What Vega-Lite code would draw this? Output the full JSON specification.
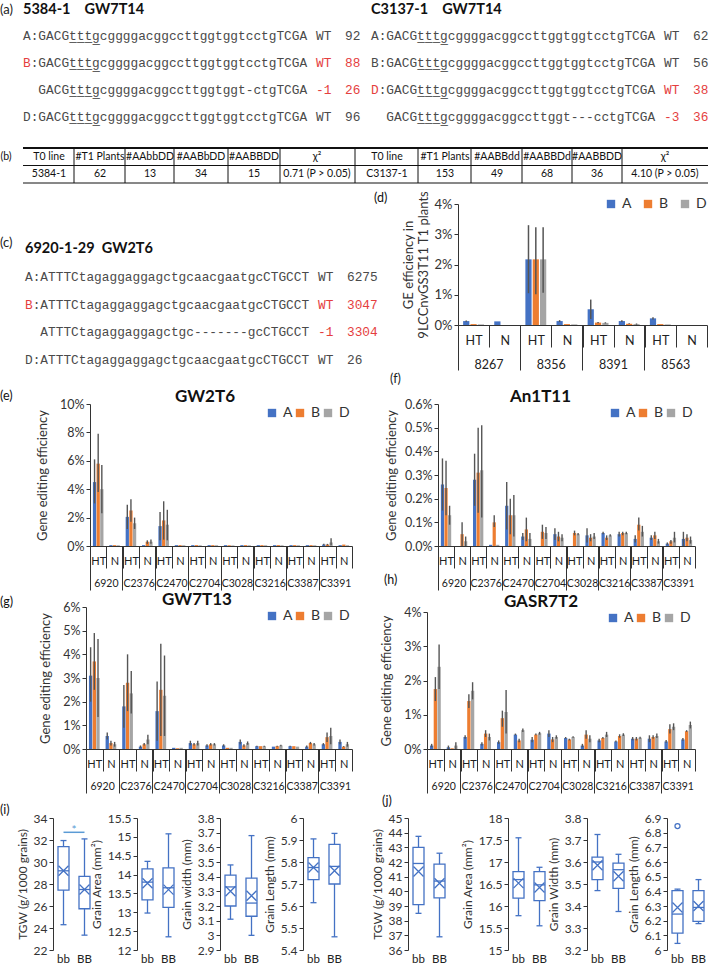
{
"$schema": "https://vega.github.io/schema/vega-lite/v6.json",
"padding": 0,
"background": "white",
"config": {
  "view": {"stroke": null},
  "font": "Lato",
  "axis": {"labelFont": "Lato", "titleFont": "Lato", "labelColor": "#333", "titleColor": "#333", "domainColor": "#333", "tickColor": "#333", "grid": false, "titleFontWeight": "normal"},
  "axisY": {"labelOverlap": false},
  "legend": {"labelFont": "Lato", "labelColor": "#333"},
  "title": {"font": "Lato", "color": "#111"}
},
"datasets": {
  "seqA": [
    {"side": "L", "line": 0, "title": "5384-1\u00a0\u00a0\u00a0\u00a0GW7T14"},
    {"side": "R", "line": 0, "title": "C3137-1\u00a0\u00a0\u00a0\u00a0GW7T14"},
    {"side": "L", "line": 1, "let": "A", "seq": "GACGt\u0332t\u0332t\u0332g\u0332cggggacggccttggtggtcctgTCGA", "st": "WT", "n": "92", "red": 0},
    {"side": "L", "line": 2, "let": "B", "seq": "GACGt\u0332t\u0332t\u0332g\u0332cggggacggccttggtggtcctgTCGA", "st": "WT", "n": "88", "red": 1},
    {"side": "L", "line": 3, "let": "", "seq": "GACGt\u0332t\u0332t\u0332g\u0332cggggacggccttggtggt-ctgTCGA", "st": "-1", "n": "26", "red": 1},
    {"side": "L", "line": 4, "let": "D", "seq": "GACGt\u0332t\u0332t\u0332g\u0332cggggacggccttggtggtcctgTCGA", "st": "WT", "n": "96", "red": 0},
    {"side": "R", "line": 1, "let": "A", "seq": "GACGt\u0332t\u0332t\u0332g\u0332cggggacggccttggtggtcctgTCGA", "st": "WT", "n": "62", "red": 0},
    {"side": "R", "line": 2, "let": "B", "seq": "GACGt\u0332t\u0332t\u0332g\u0332cggggacggccttggtggtcctgTCGA", "st": "WT", "n": "56", "red": 0},
    {"side": "R", "line": 3, "let": "D", "seq": "GACGt\u0332t\u0332t\u0332g\u0332cggggacggccttggtggtcctgTCGA", "st": "WT", "n": "38", "red": 1},
    {"side": "R", "line": 4, "let": "", "seq": "GACGt\u0332t\u0332t\u0332g\u0332cggggacggccttggt---cctgTCGA", "st": "-3", "n": "36", "red": 1}
  ],
  "seqC": [
    {"side": "L", "line": 0, "title": "6920-1-29\u00a0\u00a0GW2T6"},
    {"side": "L", "line": 1, "let": "A", "seq": "ATTTCtagaggaggagctgcaacgaatgcCTGCCT", "st": "WT", "n": "6275", "red": 0},
    {"side": "L", "line": 2, "let": "B", "seq": "ATTTCtagaggaggagctgcaacgaatgcCTGCCT", "st": "WT", "n": "3047", "red": 1},
    {"side": "L", "line": 3, "let": "", "seq": "ATTTCtagaggaggagctgc-------gcCTGCCT", "st": "-1", "n": "3304", "red": 1},
    {"side": "L", "line": 4, "let": "D", "seq": "ATTTCtagaggaggagctgcaacgaatgcCTGCCT", "st": "WT", "n": "26", "red": 0}
  ],
  "tbl": [
    {"row": "h", "col": -1, "t": "(b)"},
    {"row": "h", "col": 0, "t": "T0 line"}, {"row": "h", "col": 1, "t": "#T1 Plants"}, {"row": "h", "col": 2, "t": "#AAbbDD"},
    {"row": "h", "col": 3, "t": "#AABbDD"}, {"row": "h", "col": 4, "t": "#AABBDD"}, {"row": "h", "col": 5, "t": "χ²"},
    {"row": "h", "col": 6, "t": "T0 line"}, {"row": "h", "col": 7, "t": "#T1 Plants"}, {"row": "h", "col": 8, "t": "#AABBdd"},
    {"row": "h", "col": 9, "t": "#AABBDd"}, {"row": "h", "col": 10, "t": "#AABBDD"}, {"row": "h", "col": 11, "t": "χ²"},
    {"row": "d", "col": 0, "t": "5384-1"}, {"row": "d", "col": 1, "t": "62"}, {"row": "d", "col": 2, "t": "13"},
    {"row": "d", "col": 3, "t": "34"}, {"row": "d", "col": 4, "t": "15"}, {"row": "d", "col": 5, "t": "0.71 (P > 0.05)"},
    {"row": "d", "col": 6, "t": "C3137-1"}, {"row": "d", "col": 7, "t": "153"}, {"row": "d", "col": 8, "t": "49"},
    {"row": "d", "col": 9, "t": "68"}, {"row": "d", "col": 10, "t": "36"}, {"row": "d", "col": 11, "t": "4.10 (P > 0.05)"}
  ],
  "d": [
    {"k": "8267 HT", "al": "A", "v": 0.13, "lo": 0.11, "hi": 0.15}, {"k": "8267 HT", "al": "B", "v": 0.03}, {"k": "8267 HT", "al": "D", "v": 0.02},
    {"k": "8267 N", "al": "A", "v": 0.12}, {"k": "8267 N", "al": "B", "v": 0}, {"k": "8267 N", "al": "D", "v": 0},
    {"k": "8356 HT", "al": "A", "v": 2.17, "lo": 1.05, "hi": 3.3}, {"k": "8356 HT", "al": "B", "v": 2.17, "lo": 1.02, "hi": 3.23}, {"k": "8356 HT", "al": "D", "v": 2.17, "lo": 1.07, "hi": 3.23},
    {"k": "8356 N", "al": "A", "v": 0.13, "lo": 0.1, "hi": 0.16}, {"k": "8356 N", "al": "B", "v": 0.03}, {"k": "8356 N", "al": "D", "v": 0.02},
    {"k": "8391 HT", "al": "A", "v": 0.52, "lo": 0.2, "hi": 0.84}, {"k": "8391 HT", "al": "B", "v": 0.08, "lo": 0.06, "hi": 0.1}, {"k": "8391 HT", "al": "D", "v": 0.07, "lo": 0.05, "hi": 0.09},
    {"k": "8391 N", "al": "A", "v": 0.13, "lo": 0.1, "hi": 0.16}, {"k": "8391 N", "al": "B", "v": 0.04, "lo": 0.03, "hi": 0.06}, {"k": "8391 N", "al": "D", "v": 0.03, "lo": 0.01, "hi": 0.05},
    {"k": "8563 HT", "al": "A", "v": 0.22, "lo": 0.18, "hi": 0.26}, {"k": "8563 HT", "al": "B", "v": 0.03}, {"k": "8563 HT", "al": "D", "v": 0.02},
    {"k": "8563 N", "al": "A", "v": 0}, {"k": "8563 N", "al": "B", "v": 0}, {"k": "8563 N", "al": "D", "v": 0}
  ],
  "e": [
    {"k": "6920 HT", "al": "A", "v": 4.5, "lo": 3.0, "hi": 6.1}, {"k": "6920 HT", "al": "B", "v": 5.8, "lo": 3.8, "hi": 7.9}, {"k": "6920 HT", "al": "D", "v": 4.0, "lo": 2.3, "hi": 5.7},
    {"k": "6920 N", "al": "A", "v": 0.06}, {"k": "6920 N", "al": "B", "v": 0.06}, {"k": "6920 N", "al": "D", "v": 0.05},
    {"k": "C2376 HT", "al": "A", "v": 2.05, "lo": 1.2, "hi": 2.9}, {"k": "C2376 HT", "al": "B", "v": 2.5, "lo": 1.7, "hi": 3.3}, {"k": "C2376 HT", "al": "D", "v": 1.6, "lo": 1.2, "hi": 2.0},
    {"k": "C2376 N", "al": "A", "v": 0.06}, {"k": "C2376 N", "al": "B", "v": 0.3, "lo": 0.15, "hi": 0.4}, {"k": "C2376 N", "al": "D", "v": 0.3, "lo": 0.15, "hi": 0.45},
    {"k": "C2470 HT", "al": "A", "v": 1.4, "lo": 0.4, "hi": 2.4}, {"k": "C2470 HT", "al": "B", "v": 1.8, "lo": 0.45, "hi": 3.15}, {"k": "C2470 HT", "al": "D", "v": 1.5, "lo": 0.4, "hi": 2.55},
    {"k": "C2470 N", "al": "A", "v": 0.06}, {"k": "C2470 N", "al": "B", "v": 0.06}, {"k": "C2470 N", "al": "D", "v": 0.05},
    {"k": "C2704 HT", "al": "A", "v": 0.06}, {"k": "C2704 HT", "al": "B", "v": 0.06}, {"k": "C2704 HT", "al": "D", "v": 0.05},
    {"k": "C2704 N", "al": "A", "v": 0.06}, {"k": "C2704 N", "al": "B", "v": 0.06}, {"k": "C2704 N", "al": "D", "v": 0.05},
    {"k": "C3028 HT", "al": "A", "v": 0.06}, {"k": "C3028 HT", "al": "B", "v": 0.05}, {"k": "C3028 HT", "al": "D", "v": 0.04},
    {"k": "C3028 N", "al": "A", "v": 0.06}, {"k": "C3028 N", "al": "B", "v": 0.06}, {"k": "C3028 N", "al": "D", "v": 0.05},
    {"k": "C3216 HT", "al": "A", "v": 0.06}, {"k": "C3216 HT", "al": "B", "v": 0.06}, {"k": "C3216 HT", "al": "D", "v": 0.05},
    {"k": "C3216 N", "al": "A", "v": 0.06}, {"k": "C3216 N", "al": "B", "v": 0.06}, {"k": "C3216 N", "al": "D", "v": 0.05},
    {"k": "C3387 HT", "al": "A", "v": 0.06}, {"k": "C3387 HT", "al": "B", "v": 0.06}, {"k": "C3387 HT", "al": "D", "v": 0.05},
    {"k": "C3387 N", "al": "A", "v": 0.06}, {"k": "C3387 N", "al": "B", "v": 0.06}, {"k": "C3387 N", "al": "D", "v": 0.05},
    {"k": "C3391 HT", "al": "A", "v": 0.1, "lo": 0.05, "hi": 0.15}, {"k": "C3391 HT", "al": "B", "v": 0.1, "lo": 0.05, "hi": 0.15}, {"k": "C3391 HT", "al": "D", "v": 0.25, "lo": 0.05, "hi": 0.55},
    {"k": "C3391 N", "al": "A", "v": 0.06}, {"k": "C3391 N", "al": "B", "v": 0.1}, {"k": "C3391 N", "al": "D", "v": 0.06}
  ],
  "f": [
    {"k": "6920 HT", "al": "A", "v": 0.26, "lo": 0.15, "hi": 0.37}, {"k": "6920 HT", "al": "B", "v": 0.245, "lo": 0.13, "hi": 0.36}, {"k": "6920 HT", "al": "D", "v": 0.13, "lo": 0.09, "hi": 0.17},
    {"k": "6920 N", "al": "A", "v": 0}, {"k": "6920 N", "al": "B", "v": 0.05, "lo": 0, "hi": 0.1}, {"k": "6920 N", "al": "D", "v": 0.02, "lo": 0, "hi": 0.04},
    {"k": "C2376 HT", "al": "A", "v": 0.28, "lo": 0.17, "hi": 0.39}, {"k": "C2376 HT", "al": "B", "v": 0.31, "lo": 0.14, "hi": 0.5}, {"k": "C2376 HT", "al": "D", "v": 0.32, "lo": 0.12, "hi": 0.51},
    {"k": "C2376 N", "al": "A", "v": 0.005}, {"k": "C2376 N", "al": "B", "v": 0.1, "lo": 0.08, "hi": 0.13}, {"k": "C2376 N", "al": "D", "v": 0.005},
    {"k": "C2470 HT", "al": "A", "v": 0.17, "lo": 0.07, "hi": 0.27}, {"k": "C2470 HT", "al": "B", "v": 0.13, "lo": 0.05, "hi": 0.2}, {"k": "C2470 HT", "al": "D", "v": 0.13, "lo": 0.04, "hi": 0.215},
    {"k": "C2470 N", "al": "A", "v": 0.04, "lo": 0.025, "hi": 0.055}, {"k": "C2470 N", "al": "B", "v": 0.07, "lo": 0.02, "hi": 0.12}, {"k": "C2470 N", "al": "D", "v": 0.03, "lo": 0, "hi": 0.055},
    {"k": "C2704 HT", "al": "A", "v": 0}, {"k": "C2704 HT", "al": "B", "v": 0.06, "lo": 0.03, "hi": 0.09}, {"k": "C2704 HT", "al": "D", "v": 0.055, "lo": 0.03, "hi": 0.08},
    {"k": "C2704 N", "al": "A", "v": 0.05, "lo": 0.025, "hi": 0.075}, {"k": "C2704 N", "al": "B", "v": 0.04, "lo": 0.02, "hi": 0.06}, {"k": "C2704 N", "al": "D", "v": 0.035, "lo": 0.02, "hi": 0.05},
    {"k": "C3028 HT", "al": "A", "v": 0}, {"k": "C3028 HT", "al": "B", "v": 0.055, "lo": 0.045, "hi": 0.065}, {"k": "C3028 HT", "al": "D", "v": 0.05, "lo": 0.045, "hi": 0.055},
    {"k": "C3028 N", "al": "A", "v": 0.045, "lo": 0.015, "hi": 0.075}, {"k": "C3028 N", "al": "B", "v": 0.035, "lo": 0.02, "hi": 0.05}, {"k": "C3028 N", "al": "D", "v": 0.04, "lo": 0.03, "hi": 0.055},
    {"k": "C3216 HT", "al": "A", "v": 0.055, "lo": 0.05, "hi": 0.06}, {"k": "C3216 HT", "al": "B", "v": 0.035, "lo": 0.025, "hi": 0.045}, {"k": "C3216 HT", "al": "D", "v": 0.045, "lo": 0.04, "hi": 0.05},
    {"k": "C3216 N", "al": "A", "v": 0.05, "lo": 0.04, "hi": 0.06}, {"k": "C3216 N", "al": "B", "v": 0.055, "lo": 0.045, "hi": 0.06}, {"k": "C3216 N", "al": "D", "v": 0.055, "lo": 0.05, "hi": 0.06},
    {"k": "C3387 HT", "al": "A", "v": 0.03, "lo": 0.015, "hi": 0.045}, {"k": "C3387 HT", "al": "B", "v": 0.09, "lo": 0.065, "hi": 0.12}, {"k": "C3387 HT", "al": "D", "v": 0.06, "lo": 0.04, "hi": 0.085},
    {"k": "C3387 N", "al": "A", "v": 0.035, "lo": 0.025, "hi": 0.045}, {"k": "C3387 N", "al": "B", "v": 0.045, "lo": 0.03, "hi": 0.06}, {"k": "C3387 N", "al": "D", "v": 0.02, "lo": 0.01, "hi": 0.03},
    {"k": "C3391 HT", "al": "A", "v": 0.01, "lo": 0.005, "hi": 0.015}, {"k": "C3391 HT", "al": "B", "v": 0.02, "lo": 0.01, "hi": 0.025}, {"k": "C3391 HT", "al": "D", "v": 0.035, "lo": 0.015, "hi": 0.06},
    {"k": "C3391 N", "al": "A", "v": 0.03, "lo": 0, "hi": 0.06}, {"k": "C3391 N", "al": "B", "v": 0.035, "lo": 0.02, "hi": 0.05}, {"k": "C3391 N", "al": "D", "v": 0.025, "lo": 0.01, "hi": 0.04}
  ],
  "g": [
    {"k": "6920 HT", "al": "A", "v": 3.1, "lo": 2.0, "hi": 4.3}, {"k": "6920 HT", "al": "B", "v": 3.7, "lo": 2.5, "hi": 4.9}, {"k": "6920 HT", "al": "D", "v": 3.0, "lo": 1.35, "hi": 4.65},
    {"k": "6920 N", "al": "A", "v": 0.55, "lo": 0.4, "hi": 0.7}, {"k": "6920 N", "al": "B", "v": 0.25, "lo": 0.15, "hi": 0.35}, {"k": "6920 N", "al": "D", "v": 0.2, "lo": 0.1, "hi": 0.3},
    {"k": "C2376 HT", "al": "A", "v": 1.8, "lo": 0.9, "hi": 2.7}, {"k": "C2376 HT", "al": "B", "v": 2.8, "lo": 1.6, "hi": 4.0}, {"k": "C2376 HT", "al": "D", "v": 2.35, "lo": 1.5, "hi": 3.3},
    {"k": "C2376 N", "al": "A", "v": 0.1, "lo": 0.05, "hi": 0.15}, {"k": "C2376 N", "al": "B", "v": 0.2, "lo": 0.15, "hi": 0.25}, {"k": "C2376 N", "al": "D", "v": 0.4, "lo": 0.2, "hi": 0.6},
    {"k": "C2470 HT", "al": "A", "v": 1.6, "lo": 0.35, "hi": 2.85}, {"k": "C2470 HT", "al": "B", "v": 2.5, "lo": 0.55, "hi": 4.45}, {"k": "C2470 HT", "al": "D", "v": 2.25, "lo": 0.55, "hi": 3.95},
    {"k": "C2470 N", "al": "A", "v": 0.05}, {"k": "C2470 N", "al": "B", "v": 0.03}, {"k": "C2470 N", "al": "D", "v": 0.05},
    {"k": "C2704 HT", "al": "A", "v": 0.25, "lo": 0.15, "hi": 0.35}, {"k": "C2704 HT", "al": "B", "v": 0.2, "lo": 0.15, "hi": 0.25}, {"k": "C2704 HT", "al": "D", "v": 0.25, "lo": 0.15, "hi": 0.35},
    {"k": "C2704 N", "al": "A", "v": 0.15, "lo": 0.1, "hi": 0.2}, {"k": "C2704 N", "al": "B", "v": 0.2, "lo": 0.15, "hi": 0.25}, {"k": "C2704 N", "al": "D", "v": 0.2, "lo": 0.15, "hi": 0.25},
    {"k": "C3028 HT", "al": "A", "v": 0.15, "lo": 0.1, "hi": 0.2}, {"k": "C3028 HT", "al": "B", "v": 0.05}, {"k": "C3028 HT", "al": "D", "v": 0.05},
    {"k": "C3028 N", "al": "A", "v": 0.3, "lo": 0.2, "hi": 0.4}, {"k": "C3028 N", "al": "B", "v": 0.15, "lo": 0.1, "hi": 0.2}, {"k": "C3028 N", "al": "D", "v": 0.25, "lo": 0.18, "hi": 0.32},
    {"k": "C3216 HT", "al": "A", "v": 0.12, "lo": 0.1, "hi": 0.14}, {"k": "C3216 HT", "al": "B", "v": 0.12}, {"k": "C3216 HT", "al": "D", "v": 0.12, "lo": 0.1, "hi": 0.14},
    {"k": "C3216 N", "al": "A", "v": 0.1}, {"k": "C3216 N", "al": "B", "v": 0.12, "lo": 0.1, "hi": 0.14}, {"k": "C3216 N", "al": "D", "v": 0.15, "lo": 0.12, "hi": 0.18},
    {"k": "C3387 HT", "al": "A", "v": 0.12, "lo": 0.1, "hi": 0.14}, {"k": "C3387 HT", "al": "B", "v": 0.12}, {"k": "C3387 HT", "al": "D", "v": 0.1},
    {"k": "C3387 N", "al": "A", "v": 0.1, "lo": 0.05, "hi": 0.15}, {"k": "C3387 N", "al": "B", "v": 0.25, "lo": 0.2, "hi": 0.3}, {"k": "C3387 N", "al": "D", "v": 0.2, "lo": 0.15, "hi": 0.25},
    {"k": "C3391 HT", "al": "A", "v": 0.2, "lo": 0.15, "hi": 0.25}, {"k": "C3391 HT", "al": "B", "v": 0.5, "lo": 0.3, "hi": 0.7}, {"k": "C3391 HT", "al": "D", "v": 0.55, "lo": 0.2, "hi": 0.9},
    {"k": "C3391 N", "al": "A", "v": 0.3, "lo": 0.2, "hi": 0.4}, {"k": "C3391 N", "al": "B", "v": 0.1, "lo": 0.08, "hi": 0.12}, {"k": "C3391 N", "al": "D", "v": 0.2, "lo": 0.1, "hi": 0.3}
  ],
  "h": [
    {"k": "6920 HT", "al": "A", "v": 0.1, "lo": 0.05, "hi": 0.15}, {"k": "6920 HT", "al": "B", "v": 1.75, "lo": 1.4, "hi": 2.1}, {"k": "6920 HT", "al": "D", "v": 2.4, "lo": 1.75, "hi": 3.05},
    {"k": "6920 N", "al": "A", "v": 0.05, "lo": 0, "hi": 0.1}, {"k": "6920 N", "al": "B", "v": 0.02}, {"k": "6920 N", "al": "D", "v": 0.1, "lo": 0, "hi": 0.2},
    {"k": "C2376 HT", "al": "A", "v": 0.35, "lo": 0.3, "hi": 0.4}, {"k": "C2376 HT", "al": "B", "v": 1.4, "lo": 1.2, "hi": 1.6}, {"k": "C2376 HT", "al": "D", "v": 1.7, "lo": 1.45, "hi": 1.95},
    {"k": "C2376 N", "al": "A", "v": 0.15, "lo": 0.1, "hi": 0.2}, {"k": "C2376 N", "al": "B", "v": 0.45, "lo": 0.35, "hi": 0.55}, {"k": "C2376 N", "al": "D", "v": 0.35, "lo": 0.25, "hi": 0.45},
    {"k": "C2470 HT", "al": "A", "v": 0.2, "lo": 0.15, "hi": 0.25}, {"k": "C2470 HT", "al": "B", "v": 0.9, "lo": 0.65, "hi": 1.12}, {"k": "C2470 HT", "al": "D", "v": 1.08, "lo": 0.45, "hi": 1.72},
    {"k": "C2470 N", "al": "A", "v": 0.42, "lo": 0.4, "hi": 0.45}, {"k": "C2470 N", "al": "B", "v": 0.25, "lo": 0.2, "hi": 0.3}, {"k": "C2470 N", "al": "D", "v": 0.55, "lo": 0.5, "hi": 0.6},
    {"k": "C2704 HT", "al": "A", "v": 0.27, "lo": 0.2, "hi": 0.35}, {"k": "C2704 HT", "al": "B", "v": 0.42, "lo": 0.4, "hi": 0.45}, {"k": "C2704 HT", "al": "D", "v": 0.46, "lo": 0.42, "hi": 0.5},
    {"k": "C2704 N", "al": "A", "v": 0.45, "lo": 0.35, "hi": 0.55}, {"k": "C2704 N", "al": "B", "v": 0.28, "lo": 0.2, "hi": 0.35}, {"k": "C2704 N", "al": "D", "v": 0.35, "lo": 0.3, "hi": 0.4},
    {"k": "C3028 HT", "al": "A", "v": 0.32, "lo": 0.3, "hi": 0.35}, {"k": "C3028 HT", "al": "B", "v": 0.28, "lo": 0.25, "hi": 0.3}, {"k": "C3028 HT", "al": "D", "v": 0.35, "lo": 0.33, "hi": 0.37},
    {"k": "C3028 N", "al": "A", "v": 0.1, "lo": 0.05, "hi": 0.15}, {"k": "C3028 N", "al": "B", "v": 0.42, "lo": 0.3, "hi": 0.55}, {"k": "C3028 N", "al": "D", "v": 0.3, "lo": 0.2, "hi": 0.4},
    {"k": "C3216 HT", "al": "A", "v": 0.25, "lo": 0.2, "hi": 0.3}, {"k": "C3216 HT", "al": "B", "v": 0.32, "lo": 0.3, "hi": 0.35}, {"k": "C3216 HT", "al": "D", "v": 0.42, "lo": 0.35, "hi": 0.5},
    {"k": "C3216 N", "al": "A", "v": 0.22, "lo": 0.2, "hi": 0.25}, {"k": "C3216 N", "al": "B", "v": 0.38, "lo": 0.33, "hi": 0.43}, {"k": "C3216 N", "al": "D", "v": 0.42, "lo": 0.38, "hi": 0.46},
    {"k": "C3387 HT", "al": "A", "v": 0.3, "lo": 0.25, "hi": 0.35}, {"k": "C3387 HT", "al": "B", "v": 0.3, "lo": 0.25, "hi": 0.35}, {"k": "C3387 HT", "al": "D", "v": 0.33, "lo": 0.3, "hi": 0.36},
    {"k": "C3387 N", "al": "A", "v": 0.3, "lo": 0.2, "hi": 0.4}, {"k": "C3387 N", "al": "B", "v": 0.35, "lo": 0.3, "hi": 0.4}, {"k": "C3387 N", "al": "D", "v": 0.38, "lo": 0.32, "hi": 0.45},
    {"k": "C3391 HT", "al": "A", "v": 0.22, "lo": 0.18, "hi": 0.26}, {"k": "C3391 HT", "al": "B", "v": 0.58, "lo": 0.45, "hi": 0.72}, {"k": "C3391 HT", "al": "D", "v": 0.65, "lo": 0.55, "hi": 0.75},
    {"k": "C3391 N", "al": "A", "v": 0.28, "lo": 0.24, "hi": 0.32}, {"k": "C3391 N", "al": "B", "v": 0.52, "lo": 0.5, "hi": 0.55}, {"k": "C3391 N", "al": "D", "v": 0.7, "lo": 0.6, "hi": 0.8}
  ],
  "box": [
    {"p": "i1", "g": "bb", "min": 24.3, "q1": 27.45, "med": 29.2, "q3": 31.4, "max": 31.95, "mean": 29.2},
    {"p": "i1", "g": "BB", "min": 23.35, "q1": 25.75, "med": 27.5, "q3": 28.7, "max": 32.1, "mean": 27.5},
    {"p": "i2", "g": "bb", "min": 12.98, "q1": 13.33, "med": 13.8, "q3": 14.15, "max": 14.35, "mean": 13.77},
    {"p": "i2", "g": "BB", "min": 12.35, "q1": 13.13, "med": 13.65, "q3": 14.18, "max": 15.08, "mean": 13.6},
    {"p": "i3", "g": "bb", "min": 3.11, "q1": 3.2, "med": 3.33, "q3": 3.41, "max": 3.48, "mean": 3.3},
    {"p": "i3", "g": "BB", "min": 3.0, "q1": 3.13, "med": 3.22, "q3": 3.39, "max": 3.68, "mean": 3.27},
    {"p": "i4", "g": "bb", "min": 5.615, "q1": 5.72, "med": 5.775, "q3": 5.82, "max": 5.905, "mean": 5.775},
    {"p": "i4", "g": "BB", "min": 5.46, "q1": 5.7, "med": 5.78, "q3": 5.88, "max": 5.93, "mean": 5.76},
    {"p": "j1", "g": "bb", "min": 38.5, "q1": 39.1, "med": 41.9, "q3": 43.0, "max": 43.75, "mean": 41.35},
    {"p": "j1", "g": "BB", "min": 36.9, "q1": 39.55, "med": 40.7, "q3": 41.85, "max": 42.6, "mean": 40.55},
    {"p": "j2", "g": "bb", "min": 15.78, "q1": 16.18, "med": 16.6, "q3": 16.78, "max": 17.55, "mean": 16.52},
    {"p": "j2", "g": "BB", "min": 15.55, "q1": 16.12, "med": 16.48, "q3": 16.78, "max": 16.88, "mean": 16.42},
    {"p": "j3", "g": "bb", "min": 3.47, "q1": 3.52, "med": 3.6, "q3": 3.622, "max": 3.725, "mean": 3.585},
    {"p": "j3", "g": "BB", "min": 3.375, "q1": 3.48, "med": 3.565, "q3": 3.595, "max": 3.635, "mean": 3.535},
    {"p": "j4", "g": "bb", "min": 6.045, "q1": 6.115, "med": 6.245, "q3": 6.405, "max": 6.415, "mean": 6.29},
    {"p": "j4", "g": "BB", "min": 6.18, "q1": 6.195, "med": 6.29, "q3": 6.405, "max": 6.48, "mean": 6.3}
  ]
},
"spacing": 0,
"bounds": "full",
"resolve": {"scale": {"color": "independent", "xOffset": "independent"}, "legend": {"color": "independent"}},
"vconcat": [
  {
    "width": 709, "height": 147,
    "data": {"name": "seqA"},
    "encoding": {
      "x": {"field": "side", "type": "nominal", "scale": {"type": "point", "domain": ["L", "R"], "range": [23, 371], "padding": 0}, "axis": null},
      "y": {"field": "line", "type": "quantitative", "scale": {"domain": [0, 1, 4], "range": [10, 36, 117], "nice": false, "zero": false}, "axis": null}
    },
    "layer": [
      {"transform": [{"filter": "datum.line == 0"}], "mark": {"type": "text", "font": "Lato", "fontWeight": "bold", "fontSize": 14.5, "align": "left", "baseline": "middle", "color": "#111"}, "encoding": {"text": {"field": "title"}}},
      {"transform": [{"filter": "datum.line == 0 && datum.side == 'L'"}], "mark": {"type": "text", "font": "Lato", "fontSize": 13, "align": "left", "baseline": "middle", "dx": -23, "color": "#222"}, "encoding": {"text": {"value": "(a)"}}},
      {"transform": [{"filter": "datum.line > 0"}], "mark": {"type": "text", "font": "Liberation Mono", "fontSize": 12.8, "align": "left", "baseline": "middle"}, "encoding": {"text": {"field": "let"}, "color": {"condition": {"test": "datum.red == 1", "value": "#E53E3E"}, "value": "#4a4a4a"}}},
      {"transform": [{"filter": "datum.line > 0 && datum.let != ''"}], "mark": {"type": "text", "font": "Liberation Mono", "fontSize": 12.8, "align": "left", "baseline": "middle", "dx": 7.68, "color": "#4a4a4a"}, "encoding": {"text": {"value": ":"}}},
      {"transform": [{"filter": "datum.line > 0"}], "mark": {"type": "text", "font": "Liberation Mono", "fontSize": 12.8, "align": "left", "baseline": "middle", "dx": 15.36, "color": "#4a4a4a"}, "encoding": {"text": {"field": "seq"}}},
      {"transform": [{"filter": "datum.line > 0"}], "mark": {"type": "text", "font": "Liberation Mono", "fontSize": 12.8, "align": "left", "baseline": "middle", "dx": 293}, "encoding": {"text": {"field": "st"}, "color": {"condition": {"test": "datum.red == 1", "value": "#E53E3E"}, "value": "#4a4a4a"}}},
      {"transform": [{"filter": "datum.line > 0"}], "mark": {"type": "text", "font": "Liberation Mono", "fontSize": 12.8, "align": "left", "baseline": "middle", "dx": 322}, "encoding": {"text": {"field": "n"}, "color": {"condition": {"test": "datum.red == 1", "value": "#E53E3E"}, "value": "#4a4a4a"}}}
    ]
  },
  {
    "width": 709, "height": 42,
    "layer": [
      {"data": {"name": "tbl"},
       "mark": {"type": "text", "font": "Lato", "fontSize": 10.5, "align": "center", "baseline": "middle", "color": "#111"},
       "encoding": {
         "x": {"field": "col", "type": "quantitative", "scale": {"domain": [-1, 0, 1, 2, 3, 4, 5, 6, 7, 8, 9, 10, 11], "range": [6, 49, 100, 150, 201, 254, 317, 387, 445, 497, 547, 597, 665], "nice": false, "zero": false}, "axis": null},
         "y": {"field": "row", "type": "nominal", "scale": {"type": "point", "domain": ["h", "d"], "range": [9, 26], "padding": 0}, "axis": null},
         "text": {"field": "t"}
       }},
      {"data": {"values": [{"b": 1}, {"b": 2}, {"b": 3}, {"b": 4}, {"b": 5}, {"b": 6}, {"b": 7}, {"b": 8}, {"b": 9}, {"b": 10}, {"b": 11}]},
       "mark": {"type": "rule", "color": "#111", "strokeWidth": 1},
       "encoding": {
         "x": {"field": "b", "type": "quantitative", "scale": {"domain": [0, 1, 2, 3, 4, 5, 6, 7, 8, 9, 10, 11, 12], "range": [23, 74, 125, 174, 228, 280, 355, 418, 471, 522, 572, 622, 708], "nice": false, "zero": false}, "axis": null},
         "y": {"datum": 0, "type": "quantitative", "scale": {"domain": [0, 2], "range": [0, 35], "nice": false, "zero": false}, "axis": null},
         "y2": {"datum": 2}
       }},
      {"data": {"values": [{"h": 0}, {"h": 1}, {"h": 2}]},
       "mark": {"type": "rule", "color": "#111"},
       "encoding": {
         "y": {"field": "h", "type": "quantitative", "scale": {"domain": [0, 2], "range": [0, 35], "nice": false, "zero": false}, "axis": null},
         "x": {"datum": 0, "type": "quantitative", "scale": {"domain": [0, 1, 2, 3, 4, 5, 6, 7, 8, 9, 10, 11, 12], "range": [23, 74, 125, 174, 228, 280, 355, 418, 471, 522, 572, 622, 708], "nice": false, "zero": false}, "axis": null},
         "x2": {"datum": 12},
         "strokeWidth": {"condition": {"test": "datum.h == 0", "value": 2}, "value": 1}
       }}
    ],
    "resolve": {"scale": {"x": "independent", "y": "independent"}}
  },
  {
    "hconcat": [
      {
        "width": 458, "height": 183,
        "data": {"name": "seqC"},
        "encoding": {
          "x": {"field": "side", "type": "nominal", "scale": {"type": "point", "domain": ["L", "R"], "range": [25, 390], "padding": 0}, "axis": null},
          "y": {"field": "line", "type": "quantitative", "scale": {"domain": [0, 4, 5], "range": [45, 156, 175], "nice": false, "zero": false}, "axis": null}
        },
        "layer": [
          {"transform": [{"filter": "datum.line == 0"}], "mark": {"type": "text", "font": "Lato", "fontWeight": "bold", "fontSize": 14.5, "align": "left", "baseline": "middle", "color": "#111"}, "encoding": {"text": {"field": "title"}}},
          {"transform": [{"filter": "datum.line == 0"}], "mark": {"type": "text", "font": "Lato", "fontSize": 13, "align": "left", "baseline": "middle", "dx": -25, "dy": -6, "color": "#222"}, "encoding": {"text": {"value": "(c)"}}},
          {"transform": [{"filter": "datum.line > 0"}], "mark": {"type": "text", "font": "Liberation Mono", "fontSize": 12.8, "align": "left", "baseline": "middle"}, "encoding": {"text": {"field": "let"}, "color": {"condition": {"test": "datum.red == 1", "value": "#E53E3E"}, "value": "#4a4a4a"}}},
          {"transform": [{"filter": "datum.line > 0 && datum.let != ''"}], "mark": {"type": "text", "font": "Liberation Mono", "fontSize": 12.8, "align": "left", "baseline": "middle", "dx": 7.68, "color": "#4a4a4a"}, "encoding": {"text": {"value": ":"}}},
          {"transform": [{"filter": "datum.line > 0"}], "mark": {"type": "text", "font": "Liberation Mono", "fontSize": 12.8, "align": "left", "baseline": "middle", "dx": 15.36, "color": "#4a4a4a"}, "encoding": {"text": {"field": "seq"}}},
          {"transform": [{"filter": "datum.line > 0"}], "mark": {"type": "text", "font": "Liberation Mono", "fontSize": 12.8, "align": "left", "baseline": "middle", "dx": 293}, "encoding": {"text": {"field": "st"}, "color": {"condition": {"test": "datum.red == 1", "value": "#E53E3E"}, "value": "#4a4a4a"}}},
          {"transform": [{"filter": "datum.line > 0"}], "mark": {"type": "text", "font": "Liberation Mono", "fontSize": 12.8, "align": "left", "baseline": "middle", "dx": 322}, "encoding": {"text": {"field": "n"}, "color": {"condition": {"test": "datum.red == 1", "value": "#E53E3E"}, "value": "#4a4a4a"}}},
          {"data": {"values": [{"side": "R", "line": 5, "t": "(f)"}]}, "mark": {"type": "text", "font": "Lato", "fontSize": 12.5, "align": "left", "baseline": "middle", "color": "#222"}, "encoding": {"text": {"field": "t"}}}
        ]
      },
      {
        "width": 249, "height": 121,
        "data": {"name": "d"},
        "title": {"text": "(d)", "anchor": "start", "frame": "group", "dx": -84, "offset": -14, "fontSize": 12.5, "fontWeight": "normal"},
        "layer": [
          {"mark": {"type": "bar"},
           "encoding": {
             "x": {"field": "k", "type": "nominal", "scale": {"domain": ["8267 HT", "8267 N", "8356 HT", "8356 N", "8391 HT", "8391 N", "8563 HT", "8563 N"], "paddingInner": 0, "paddingOuter": 0},
                   "axis": {"title": null, "orient": "bottom", "labelExpr": "split(datum.label, ' ')[1]", "tickBand": "extent", "tickSize": 22, "labelPadding": -13, "labelAngle": 0, "labelFontSize": 12.5, "labelColor": "#222"}},
             "xOffset": {"field": "al", "type": "nominal", "scale": {"domain": ["A", "B", "D"], "paddingOuter": 0.7, "paddingInner": 0.15}},
             "y": {"field": "v", "type": "quantitative", "scale": {"domain": [0, 4], "nice": false},
                   "axis": {"title": ["GE efficiency in", "9LCCnvGS3T11 T1 plants"], "values": [0, 1, 2, 3, 4], "tickCount": 20, "format": "~g", "labelExpr": "datum.label + '%'", "labelOverlap": false, "titleFontSize": 13, "labelFontSize": 13, "tickSize": 4, "titlePadding": 4}},
             "color": {"field": "al", "type": "nominal", "scale": {"domain": ["A", "B", "D"], "range": ["#4472C4", "#ED7D31", "#A5A5A5"]},
                       "legend": {"title": null, "orient": "none", "legendX": 146, "legendY": -7, "direction": "horizontal", "symbolType": "square", "symbolSize": 70, "labelFontSize": 14, "columnPadding": 9}}
           }},
          {"mark": {"type": "rule", "color": "#555", "strokeWidth": 1.5},
           "encoding": {
             "x": {"field": "k", "type": "nominal", "axis": {"title": null, "orient": "bottom", "domain": false, "bandPosition": 0, "tickSize": 45, "tickOpacity": {"condition": {"test": "indexof(datum.value, ' HT') > 0", "value": 1}, "value": 0}, "labelExpr": "indexof(datum.label, ' HT') > 0 ? split(datum.label, ' ')[0] : ''", "labelOffset": 15.56, "labelPadding": -12, "labelAngle": 0, "labelFontSize": 12.5, "labelColor": "#222"}},
             "xOffset": {"field": "al", "type": "nominal"},
             "y": {"field": "lo", "type": "quantitative"},
             "y2": {"field": "hi"}
           }}
        ],
        "resolve": {"axis": {"x": "independent"}}
      }
    ],
    "spacing": 0,
    "bounds": "flush",
    "resolve": {"scale": {"color": "independent", "xOffset": "independent"}, "legend": {"color": "independent"}}
  },
  {
    "hconcat": [
      {"width": 90, "height": 187, "data": {"values": []}, "mark": "text", "title": {"text": "(e)", "anchor": "start", "frame": "group", "offset": 2, "fontSize": 12.5, "fontWeight": "normal"}},
      {
        "width": 262, "height": 142,
        "data": {"name": "e"},
        "title": {"text": "GW2T6", "anchor": "middle", "frame": "group", "dx": -16, "offset": -7.5, "fontSize": 17, "fontWeight": "bold"},
        "layer": [
          {"mark": {"type": "bar"},
           "encoding": {
             "x": {"field": "k", "type": "nominal", "scale": {"domain": ["6920 HT", "6920 N", "C2376 HT", "C2376 N", "C2470 HT", "C2470 N", "C2704 HT", "C2704 N", "C3028 HT", "C3028 N", "C3216 HT", "C3216 N", "C3387 HT", "C3387 N", "C3391 HT", "C3391 N"], "paddingInner": 0, "paddingOuter": 0},
                   "axis": {"title": null, "orient": "bottom", "labelExpr": "split(datum.label, ' ')[1]", "tickBand": "extent", "tickSize": 22, "labelPadding": -13, "labelAngle": 0, "labelFontSize": 11, "labelColor": "#222"}},
             "xOffset": {"field": "al", "type": "nominal", "scale": {"domain": ["A", "B", "D"], "paddingOuter": 0.8, "paddingInner": 0.1}},
             "y": {"field": "v", "type": "quantitative", "scale": {"domain": [0, 10], "nice": false},
                   "axis": {"title": "Gene editing efficiency", "values": [0, 2, 4, 6, 8, 10], "tickCount": 20, "format": "~g", "labelExpr": "datum.label + '%'", "labelOverlap": false, "titleFontSize": 13, "labelFontSize": 12.5, "tickSize": 4, "titlePadding": 10}},
             "color": {"field": "al", "type": "nominal", "scale": {"domain": ["A", "B", "D"], "range": ["#4472C4", "#ED7D31", "#A5A5A5"]},
                       "legend": {"title": null, "orient": "top-right", "direction": "horizontal", "symbolType": "square", "symbolSize": 70, "labelFontSize": 14, "offset": 2, "columnPadding": 0}}
           }},
          {"mark": {"type": "rule", "color": "#555", "strokeWidth": 1.4},
           "encoding": {
             "x": {"field": "k", "type": "nominal", "axis": {"title": null, "orient": "bottom", "domain": false, "bandPosition": 0, "tickSize": 44, "tickOpacity": {"condition": {"test": "indexof(datum.value, ' HT') > 0", "value": 1}, "value": 0}, "labelExpr": "indexof(datum.label, ' HT') > 0 ? split(datum.label, ' ')[0] : ''", "labelOffset": 8.19, "labelPadding": -12, "labelAngle": 0, "labelFontSize": 10.5, "labelColor": "#222"}},
             "xOffset": {"field": "al", "type": "nominal"},
             "y": {"field": "lo", "type": "quantitative"},
             "y2": {"field": "hi"}
           }}
        ],
        "resolve": {"axis": {"x": "independent"}}
      },
      {"width": 86, "height": 142, "data": {"values": []}, "mark": "text", "title": {"text": "(h)", "orient": "bottom", "anchor": "start", "frame": "group", "dx": 32, "offset": 28, "fontSize": 12.5, "fontWeight": "normal"}},
      {
        "width": 257, "height": 142,
        "data": {"name": "f"},
        "title": {"text": "An1T11", "anchor": "middle", "frame": "group", "dx": -26, "offset": -7.5, "fontSize": 17, "fontWeight": "bold"},
        "layer": [
          {"mark": {"type": "bar"},
           "encoding": {
             "x": {"field": "k", "type": "nominal", "scale": {"domain": ["6920 HT", "6920 N", "C2376 HT", "C2376 N", "C2470 HT", "C2470 N", "C2704 HT", "C2704 N", "C3028 HT", "C3028 N", "C3216 HT", "C3216 N", "C3387 HT", "C3387 N", "C3391 HT", "C3391 N"], "paddingInner": 0, "paddingOuter": 0},
                   "axis": {"title": null, "orient": "bottom", "labelExpr": "split(datum.label, ' ')[1]", "tickBand": "extent", "tickSize": 22, "labelPadding": -13, "labelAngle": 0, "labelFontSize": 11, "labelColor": "#222"}},
             "xOffset": {"field": "al", "type": "nominal", "scale": {"domain": ["A", "B", "D"], "paddingOuter": 0.8, "paddingInner": 0.1}},
             "y": {"field": "v", "type": "quantitative", "scale": {"domain": [0, 0.6], "nice": false},
                   "axis": {"title": "Gene editing efficiency", "values": [0, 0.1, 0.2, 0.3, 0.4, 0.5, 0.6], "tickCount": 20, "format": ".1f", "labelExpr": "datum.label + '%'", "labelOverlap": false, "titleFontSize": 13, "labelFontSize": 12.5, "tickSize": 4, "titlePadding": 6}},
             "color": {"field": "al", "type": "nominal", "scale": {"domain": ["A", "B", "D"], "range": ["#4472C4", "#ED7D31", "#A5A5A5"]},
                       "legend": {"title": null, "orient": "top-right", "direction": "horizontal", "symbolType": "square", "symbolSize": 70, "labelFontSize": 14, "offset": 2, "columnPadding": 0}}
           }},
          {"mark": {"type": "rule", "color": "#555", "strokeWidth": 1.4},
           "encoding": {
             "x": {"field": "k", "type": "nominal", "axis": {"title": null, "orient": "bottom", "domain": false, "bandPosition": 0, "tickSize": 44, "tickOpacity": {"condition": {"test": "indexof(datum.value, ' HT') > 0", "value": 1}, "value": 0}, "labelExpr": "indexof(datum.label, ' HT') > 0 ? split(datum.label, ' ')[0] : ''", "labelOffset": 8.03, "labelPadding": -12, "labelAngle": 0, "labelFontSize": 10.5, "labelColor": "#222"}},
             "xOffset": {"field": "al", "type": "nominal"},
             "y": {"field": "lo", "type": "quantitative"},
             "y2": {"field": "hi"}
           }}
        ],
        "resolve": {"axis": {"x": "independent"}}
      }
    ],
    "spacing": 0,
    "bounds": "flush",
    "resolve": {"scale": {"color": "independent", "xOffset": "independent"}, "legend": {"color": "independent"}}
  },
  {
    "hconcat": [
      {"width": 86, "height": 150, "data": {"values": []}, "mark": "text", "title": {"text": "(g)", "anchor": "start", "frame": "group", "offset": -1, "fontSize": 12.5, "fontWeight": "normal"}},
      {
        "width": 266, "height": 142,
        "data": {"name": "g"},
        "title": {"text": "GW7T13", "anchor": "middle", "frame": "group", "dx": -22, "offset": -8, "fontSize": 17, "fontWeight": "bold"},
        "layer": [
          {"mark": {"type": "bar"},
           "encoding": {
             "x": {"field": "k", "type": "nominal", "scale": {"domain": ["6920 HT", "6920 N", "C2376 HT", "C2376 N", "C2470 HT", "C2470 N", "C2704 HT", "C2704 N", "C3028 HT", "C3028 N", "C3216 HT", "C3216 N", "C3387 HT", "C3387 N", "C3391 HT", "C3391 N"], "paddingInner": 0, "paddingOuter": 0},
                   "axis": {"title": null, "orient": "bottom", "labelExpr": "split(datum.label, ' ')[1]", "tickBand": "extent", "tickSize": 22, "labelPadding": -13, "labelAngle": 0, "labelFontSize": 11, "labelColor": "#222"}},
             "xOffset": {"field": "al", "type": "nominal", "scale": {"domain": ["A", "B", "D"], "paddingOuter": 0.8, "paddingInner": 0.1}},
             "y": {"field": "v", "type": "quantitative", "scale": {"domain": [0, 6], "nice": false},
                   "axis": {"title": "Gene editing efficiency", "values": [0, 1, 2, 3, 4, 5, 6], "tickCount": 20, "format": "~g", "labelExpr": "datum.label + '%'", "labelOverlap": false, "titleFontSize": 13, "labelFontSize": 12.5, "tickSize": 4, "titlePadding": 10}},
             "color": {"field": "al", "type": "nominal", "scale": {"domain": ["A", "B", "D"], "range": ["#4472C4", "#ED7D31", "#A5A5A5"]},
                       "legend": {"title": null, "orient": "top-right", "direction": "horizontal", "symbolType": "square", "symbolSize": 70, "labelFontSize": 14, "offset": 2, "columnPadding": 0}}
           }},
          {"mark": {"type": "rule", "color": "#555", "strokeWidth": 1.4},
           "encoding": {
             "x": {"field": "k", "type": "nominal", "axis": {"title": null, "orient": "bottom", "domain": false, "bandPosition": 0, "tickSize": 44, "tickOpacity": {"condition": {"test": "indexof(datum.value, ' HT') > 0", "value": 1}, "value": 0}, "labelExpr": "indexof(datum.label, ' HT') > 0 ? split(datum.label, ' ')[0] : ''", "labelOffset": 8.31, "labelPadding": -12, "labelAngle": 0, "labelFontSize": 10.5, "labelColor": "#222"}},
             "xOffset": {"field": "al", "type": "nominal"},
             "y": {"field": "lo", "type": "quantitative"},
             "y2": {"field": "hi"}
           }}
        ],
        "resolve": {"axis": {"x": "independent"}}
      },
      {"width": 75, "height": 142, "data": {"values": []}, "mark": "text"},
      {
        "width": 268, "height": 142,
        "data": {"name": "h"},
        "title": {"text": "GASR7T2", "anchor": "middle", "frame": "group", "dx": -20, "offset": -5, "fontSize": 17, "fontWeight": "bold"},
        "layer": [
          {"mark": {"type": "bar"},
           "encoding": {
             "x": {"field": "k", "type": "nominal", "scale": {"domain": ["6920 HT", "6920 N", "C2376 HT", "C2376 N", "C2470 HT", "C2470 N", "C2704 HT", "C2704 N", "C3028 HT", "C3028 N", "C3216 HT", "C3216 N", "C3387 HT", "C3387 N", "C3391 HT", "C3391 N"], "paddingInner": 0, "paddingOuter": 0},
                   "axis": {"title": null, "orient": "bottom", "labelExpr": "split(datum.label, ' ')[1]", "tickBand": "extent", "tickSize": 22, "labelPadding": -13, "labelAngle": 0, "labelFontSize": 11, "labelColor": "#222"}},
             "xOffset": {"field": "al", "type": "nominal", "scale": {"domain": ["A", "B", "D"], "paddingOuter": 0.8, "paddingInner": 0.1}},
             "y": {"field": "v", "type": "quantitative", "scale": {"domain": [0, 4], "range": [142, 5], "nice": false},
                   "axis": {"title": "Gene editing efficiency", "values": [0, 1, 2, 3, 4], "tickCount": 20, "format": "~g", "labelExpr": "datum.label + '%'", "labelOverlap": false, "titleFontSize": 13, "labelFontSize": 12.5, "tickSize": 4, "titlePadding": 10}},
             "color": {"field": "al", "type": "nominal", "scale": {"domain": ["A", "B", "D"], "range": ["#4472C4", "#ED7D31", "#A5A5A5"]},
                       "legend": {"title": null, "orient": "top-right", "direction": "horizontal", "symbolType": "square", "symbolSize": 70, "labelFontSize": 14, "offset": 4, "columnPadding": 0}}
           }},
          {"mark": {"type": "rule", "color": "#555", "strokeWidth": 1.4},
           "encoding": {
             "x": {"field": "k", "type": "nominal", "axis": {"title": null, "orient": "bottom", "domain": false, "bandPosition": 0, "tickSize": 44, "tickOpacity": {"condition": {"test": "indexof(datum.value, ' HT') > 0", "value": 1}, "value": 0}, "labelExpr": "indexof(datum.label, ' HT') > 0 ? split(datum.label, ' ')[0] : ''", "labelOffset": 8.375, "labelPadding": -12, "labelAngle": 0, "labelFontSize": 10.5, "labelColor": "#222"}},
             "xOffset": {"field": "al", "type": "nominal"},
             "y": {"field": "lo", "type": "quantitative"},
             "y2": {"field": "hi"}
           }}
        ],
        "resolve": {"axis": {"x": "independent"}}
      }
    ],
    "spacing": 0,
    "bounds": "flush",
    "resolve": {"scale": {"color": "independent", "xOffset": "independent"}, "legend": {"color": "independent"}}
  },
  {
    "hconcat": [
      {"width": 53, "height": 132, "data": {"values": []}, "mark": "text", "title": {"text": "(i)", "anchor": "start", "frame": "group", "offset": 2, "fontSize": 12.5, "fontWeight": "normal"}},
      {
        "width": 84, "height": 132, "data": {"name": "box"}, "transform": [{"filter": "datum.p == 'i1'"}],
        "encoding": {"x": {"field": "g", "type": "nominal", "scale": {"domain": ["bb", "BB"], "range": [0, 42], "paddingInner": 0, "paddingOuter": 0}, "axis": {"title": null, "domain": false, "ticks": false, "labelAngle": 0, "labelPadding": 3, "labelFontSize": 11.5, "labelColor": "#222"}}},
        "layer": [
          {"mark": {"type": "rule", "color": "#4472C4", "strokeWidth": 1.3}, "encoding": {"y": {"field": "min", "type": "quantitative", "scale": {"domain": [22, 34], "nice": false, "zero": false}, "axis": {"title": "TGW (g/1000 grains)", "values": [22, 24, 26, 28, 30, 32, 34], "tickCount": 20, "format": "~g", "labelOverlap": false, "labelFontSize": 12, "titleFontSize": 12, "tickSize": 4}}, "y2": {"field": "max"}}},
          {"mark": {"type": "bar", "fill": "#fff", "stroke": "#4472C4", "strokeWidth": 1.3, "width": 11}, "encoding": {"y": {"field": "q1", "type": "quantitative"}, "y2": {"field": "q3"}}},
          {"mark": {"type": "tick", "color": "#4472C4", "thickness": 1.3, "size": 11, "opacity": 1}, "encoding": {"y": {"field": "med", "type": "quantitative"}}},
          {"mark": {"type": "tick", "color": "#4472C4", "thickness": 1.3, "size": 6, "opacity": 1}, "encoding": {"y": {"field": "min", "type": "quantitative"}}},
          {"mark": {"type": "tick", "color": "#4472C4", "thickness": 1.3, "size": 6, "opacity": 1}, "encoding": {"y": {"field": "max", "type": "quantitative"}}},
          {"mark": {"type": "point", "shape": "M-1,-1L1,1M-1,1L1,-1", "filled": false, "color": "#4472C4", "strokeWidth": 1.3, "size": 100, "opacity": 1}, "encoding": {"y": {"field": "mean", "type": "quantitative"}}},
          {"data": {"values": [{"a": "bb", "b": "BB", "y": 32.7}]}, "mark": {"type": "rule", "color": "#5B9BD5", "strokeWidth": 1.5}, "encoding": {"x": {"field": "a", "type": "nominal"}, "x2": {"field": "b"}, "y": {"field": "y", "type": "quantitative"}}},
          {"data": {"values": [{"a": "bb", "y": 32.7}]}, "mark": {"type": "text", "text": "*", "color": "#5B9BD5", "fontSize": 12, "baseline": "middle", "dy": -2}, "encoding": {"x": {"field": "a", "type": "nominal", "bandPosition": 1}, "y": {"field": "y", "type": "quantitative"}}}
        ]
      },
      {
        "width": 83, "height": 132, "data": {"name": "box"}, "transform": [{"filter": "datum.p == 'i2'"}],
        "encoding": {"x": {"field": "g", "type": "nominal", "scale": {"domain": ["bb", "BB"], "range": [0, 42], "paddingInner": 0, "paddingOuter": 0}, "axis": {"title": null, "domain": false, "ticks": false, "labelAngle": 0, "labelPadding": 3, "labelFontSize": 11.5, "labelColor": "#222"}}},
        "layer": [
          {"mark": {"type": "rule", "color": "#4472C4", "strokeWidth": 1.3}, "encoding": {"y": {"field": "min", "type": "quantitative", "scale": {"domain": [12, 15.5], "nice": false, "zero": false}, "axis": {"title": "Grain Area (mm²)", "values": [12, 12.5, 13, 13.5, 14, 14.5, 15, 15.5], "tickCount": 20, "format": "~g", "labelOverlap": false, "labelFontSize": 12, "titleFontSize": 12, "tickSize": 4}}, "y2": {"field": "max"}}},
          {"mark": {"type": "bar", "fill": "#fff", "stroke": "#4472C4", "strokeWidth": 1.3, "width": 11}, "encoding": {"y": {"field": "q1", "type": "quantitative"}, "y2": {"field": "q3"}}},
          {"mark": {"type": "tick", "color": "#4472C4", "thickness": 1.3, "size": 11, "opacity": 1}, "encoding": {"y": {"field": "med", "type": "quantitative"}}},
          {"mark": {"type": "tick", "color": "#4472C4", "thickness": 1.3, "size": 6, "opacity": 1}, "encoding": {"y": {"field": "min", "type": "quantitative"}}},
          {"mark": {"type": "tick", "color": "#4472C4", "thickness": 1.3, "size": 6, "opacity": 1}, "encoding": {"y": {"field": "max", "type": "quantitative"}}},
          {"mark": {"type": "point", "shape": "M-1,-1L1,1M-1,1L1,-1", "filled": false, "color": "#4472C4", "strokeWidth": 1.3, "size": 100, "opacity": 1}, "encoding": {"y": {"field": "mean", "type": "quantitative"}}}
        ]
      },
      {
        "width": 83, "height": 132, "data": {"name": "box"}, "transform": [{"filter": "datum.p == 'i3'"}],
        "encoding": {"x": {"field": "g", "type": "nominal", "scale": {"domain": ["bb", "BB"], "range": [0, 42], "paddingInner": 0, "paddingOuter": 0}, "axis": {"title": null, "domain": false, "ticks": false, "labelAngle": 0, "labelPadding": 3, "labelFontSize": 11.5, "labelColor": "#222"}}},
        "layer": [
          {"mark": {"type": "rule", "color": "#4472C4", "strokeWidth": 1.3}, "encoding": {"y": {"field": "min", "type": "quantitative", "scale": {"domain": [2.9, 3.8], "nice": false, "zero": false}, "axis": {"title": "Grain width (mm)", "values": [2.9, 3, 3.1, 3.2, 3.3, 3.4, 3.5, 3.6, 3.7, 3.8], "tickCount": 20, "format": "~g", "labelOverlap": false, "labelFontSize": 12, "titleFontSize": 12, "tickSize": 4}}, "y2": {"field": "max"}}},
          {"mark": {"type": "bar", "fill": "#fff", "stroke": "#4472C4", "strokeWidth": 1.3, "width": 11}, "encoding": {"y": {"field": "q1", "type": "quantitative"}, "y2": {"field": "q3"}}},
          {"mark": {"type": "tick", "color": "#4472C4", "thickness": 1.3, "size": 11, "opacity": 1}, "encoding": {"y": {"field": "med", "type": "quantitative"}}},
          {"mark": {"type": "tick", "color": "#4472C4", "thickness": 1.3, "size": 6, "opacity": 1}, "encoding": {"y": {"field": "min", "type": "quantitative"}}},
          {"mark": {"type": "tick", "color": "#4472C4", "thickness": 1.3, "size": 6, "opacity": 1}, "encoding": {"y": {"field": "max", "type": "quantitative"}}},
          {"mark": {"type": "point", "shape": "M-1,-1L1,1M-1,1L1,-1", "filled": false, "color": "#4472C4", "strokeWidth": 1.3, "size": 100, "opacity": 1}, "encoding": {"y": {"field": "mean", "type": "quantitative"}}}
        ]
      },
      {
        "width": 105, "height": 132, "data": {"name": "box"}, "transform": [{"filter": "datum.p == 'i4'"}],
        "encoding": {"x": {"field": "g", "type": "nominal", "scale": {"domain": ["bb", "BB"], "range": [0, 42], "paddingInner": 0, "paddingOuter": 0}, "axis": {"title": null, "domain": false, "ticks": false, "labelAngle": 0, "labelPadding": 3, "labelFontSize": 11.5, "labelColor": "#222"}}},
        "layer": [
          {"mark": {"type": "rule", "color": "#4472C4", "strokeWidth": 1.3}, "encoding": {"y": {"field": "min", "type": "quantitative", "scale": {"domain": [5.4, 6], "nice": false, "zero": false}, "axis": {"title": "Grain Length (mm)", "values": [5.4, 5.5, 5.6, 5.7, 5.8, 5.9, 6], "tickCount": 20, "format": "~g", "labelOverlap": false, "labelFontSize": 12, "titleFontSize": 12, "tickSize": 4}}, "y2": {"field": "max"}}},
          {"mark": {"type": "bar", "fill": "#fff", "stroke": "#4472C4", "strokeWidth": 1.3, "width": 11}, "encoding": {"y": {"field": "q1", "type": "quantitative"}, "y2": {"field": "q3"}}},
          {"mark": {"type": "tick", "color": "#4472C4", "thickness": 1.3, "size": 11, "opacity": 1}, "encoding": {"y": {"field": "med", "type": "quantitative"}}},
          {"mark": {"type": "tick", "color": "#4472C4", "thickness": 1.3, "size": 6, "opacity": 1}, "encoding": {"y": {"field": "min", "type": "quantitative"}}},
          {"mark": {"type": "tick", "color": "#4472C4", "thickness": 1.3, "size": 6, "opacity": 1}, "encoding": {"y": {"field": "max", "type": "quantitative"}}},
          {"mark": {"type": "point", "shape": "M-1,-1L1,1M-1,1L1,-1", "filled": false, "color": "#4472C4", "strokeWidth": 1.3, "size": 100, "opacity": 1}, "encoding": {"y": {"field": "mean", "type": "quantitative"}}}
        ]
      },
      {
        "width": 100, "height": 132, "data": {"name": "box"}, "transform": [{"filter": "datum.p == 'j1'"}],
        "title": {"text": "(j)", "anchor": "start", "frame": "group", "dx": -26, "offset": 5, "fontSize": 12.5, "fontWeight": "normal"},
        "encoding": {"x": {"field": "g", "type": "nominal", "scale": {"domain": ["bb", "BB"], "range": [0, 42], "paddingInner": 0, "paddingOuter": 0}, "axis": {"title": null, "domain": false, "ticks": false, "labelAngle": 0, "labelPadding": 3, "labelFontSize": 11.5, "labelColor": "#222"}}},
        "layer": [
          {"mark": {"type": "rule", "color": "#4472C4", "strokeWidth": 1.3}, "encoding": {"y": {"field": "min", "type": "quantitative", "scale": {"domain": [36, 45], "nice": false, "zero": false}, "axis": {"title": "TGW (g/1000 grains)", "values": [36, 37, 38, 39, 40, 41, 42, 43, 44, 45], "tickCount": 20, "format": "~g", "labelOverlap": false, "labelFontSize": 12, "titleFontSize": 12, "tickSize": 4}}, "y2": {"field": "max"}}},
          {"mark": {"type": "bar", "fill": "#fff", "stroke": "#4472C4", "strokeWidth": 1.3, "width": 11}, "encoding": {"y": {"field": "q1", "type": "quantitative"}, "y2": {"field": "q3"}}},
          {"mark": {"type": "tick", "color": "#4472C4", "thickness": 1.3, "size": 11, "opacity": 1}, "encoding": {"y": {"field": "med", "type": "quantitative"}}},
          {"mark": {"type": "tick", "color": "#4472C4", "thickness": 1.3, "size": 6, "opacity": 1}, "encoding": {"y": {"field": "min", "type": "quantitative"}}},
          {"mark": {"type": "tick", "color": "#4472C4", "thickness": 1.3, "size": 6, "opacity": 1}, "encoding": {"y": {"field": "max", "type": "quantitative"}}},
          {"mark": {"type": "point", "shape": "M-1,-1L1,1M-1,1L1,-1", "filled": false, "color": "#4472C4", "strokeWidth": 1.3, "size": 100, "opacity": 1}, "encoding": {"y": {"field": "mean", "type": "quantitative"}}}
        ]
      },
      {
        "width": 79, "height": 132, "data": {"name": "box"}, "transform": [{"filter": "datum.p == 'j2'"}],
        "encoding": {"x": {"field": "g", "type": "nominal", "scale": {"domain": ["bb", "BB"], "range": [0, 42], "paddingInner": 0, "paddingOuter": 0}, "axis": {"title": null, "domain": false, "ticks": false, "labelAngle": 0, "labelPadding": 3, "labelFontSize": 11.5, "labelColor": "#222"}}},
        "layer": [
          {"mark": {"type": "rule", "color": "#4472C4", "strokeWidth": 1.3}, "encoding": {"y": {"field": "min", "type": "quantitative", "scale": {"domain": [15, 18], "nice": false, "zero": false}, "axis": {"title": "Grain Area (mm²)", "values": [15, 15.5, 16, 16.5, 17, 17.5, 18], "tickCount": 20, "format": "~g", "labelOverlap": false, "labelFontSize": 12, "titleFontSize": 12, "tickSize": 4}}, "y2": {"field": "max"}}},
          {"mark": {"type": "bar", "fill": "#fff", "stroke": "#4472C4", "strokeWidth": 1.3, "width": 11}, "encoding": {"y": {"field": "q1", "type": "quantitative"}, "y2": {"field": "q3"}}},
          {"mark": {"type": "tick", "color": "#4472C4", "thickness": 1.3, "size": 11, "opacity": 1}, "encoding": {"y": {"field": "med", "type": "quantitative"}}},
          {"mark": {"type": "tick", "color": "#4472C4", "thickness": 1.3, "size": 6, "opacity": 1}, "encoding": {"y": {"field": "min", "type": "quantitative"}}},
          {"mark": {"type": "tick", "color": "#4472C4", "thickness": 1.3, "size": 6, "opacity": 1}, "encoding": {"y": {"field": "max", "type": "quantitative"}}},
          {"mark": {"type": "point", "shape": "M-1,-1L1,1M-1,1L1,-1", "filled": false, "color": "#4472C4", "strokeWidth": 1.3, "size": 100, "opacity": 1}, "encoding": {"y": {"field": "mean", "type": "quantitative"}}}
        ]
      },
      {
        "width": 80, "height": 132, "data": {"name": "box"}, "transform": [{"filter": "datum.p == 'j3'"}],
        "encoding": {"x": {"field": "g", "type": "nominal", "scale": {"domain": ["bb", "BB"], "range": [0, 42], "paddingInner": 0, "paddingOuter": 0}, "axis": {"title": null, "domain": false, "ticks": false, "labelAngle": 0, "labelPadding": 3, "labelFontSize": 11.5, "labelColor": "#222"}}},
        "layer": [
          {"mark": {"type": "rule", "color": "#4472C4", "strokeWidth": 1.3}, "encoding": {"y": {"field": "min", "type": "quantitative", "scale": {"domain": [3.2, 3.8], "nice": false, "zero": false}, "axis": {"title": "Grain Width (mm)", "values": [3.2, 3.3, 3.4, 3.5, 3.6, 3.7, 3.8], "tickCount": 20, "format": "~g", "labelOverlap": false, "labelFontSize": 12, "titleFontSize": 12, "tickSize": 4}}, "y2": {"field": "max"}}},
          {"mark": {"type": "bar", "fill": "#fff", "stroke": "#4472C4", "strokeWidth": 1.3, "width": 11}, "encoding": {"y": {"field": "q1", "type": "quantitative"}, "y2": {"field": "q3"}}},
          {"mark": {"type": "tick", "color": "#4472C4", "thickness": 1.3, "size": 11, "opacity": 1}, "encoding": {"y": {"field": "med", "type": "quantitative"}}},
          {"mark": {"type": "tick", "color": "#4472C4", "thickness": 1.3, "size": 6, "opacity": 1}, "encoding": {"y": {"field": "min", "type": "quantitative"}}},
          {"mark": {"type": "tick", "color": "#4472C4", "thickness": 1.3, "size": 6, "opacity": 1}, "encoding": {"y": {"field": "max", "type": "quantitative"}}},
          {"mark": {"type": "point", "shape": "M-1,-1L1,1M-1,1L1,-1", "filled": false, "color": "#4472C4", "strokeWidth": 1.3, "size": 100, "opacity": 1}, "encoding": {"y": {"field": "mean", "type": "quantitative"}}}
        ]
      },
      {
        "width": 42, "height": 132, "data": {"name": "box"}, "transform": [{"filter": "datum.p == 'j4'"}],
        "encoding": {"x": {"field": "g", "type": "nominal", "scale": {"domain": ["bb", "BB"], "range": [0, 42], "paddingInner": 0, "paddingOuter": 0}, "axis": {"title": null, "domain": false, "ticks": false, "labelAngle": 0, "labelPadding": 3, "labelFontSize": 11.5, "labelColor": "#222"}}},
        "layer": [
          {"mark": {"type": "rule", "color": "#4472C4", "strokeWidth": 1.3}, "encoding": {"y": {"field": "min", "type": "quantitative", "scale": {"domain": [6, 6.9], "nice": false, "zero": false}, "axis": {"title": "Grain Length (mm)", "values": [6, 6.1, 6.2, 6.3, 6.4, 6.5, 6.6, 6.7, 6.8, 6.9], "tickCount": 20, "format": "~g", "labelOverlap": false, "labelFontSize": 12, "titleFontSize": 12, "tickSize": 4}}, "y2": {"field": "max"}}},
          {"mark": {"type": "bar", "fill": "#fff", "stroke": "#4472C4", "strokeWidth": 1.3, "width": 11}, "encoding": {"y": {"field": "q1", "type": "quantitative"}, "y2": {"field": "q3"}}},
          {"mark": {"type": "tick", "color": "#4472C4", "thickness": 1.3, "size": 11, "opacity": 1}, "encoding": {"y": {"field": "med", "type": "quantitative"}}},
          {"mark": {"type": "tick", "color": "#4472C4", "thickness": 1.3, "size": 6, "opacity": 1}, "encoding": {"y": {"field": "min", "type": "quantitative"}}},
          {"mark": {"type": "tick", "color": "#4472C4", "thickness": 1.3, "size": 6, "opacity": 1}, "encoding": {"y": {"field": "max", "type": "quantitative"}}},
          {"mark": {"type": "point", "shape": "M-1,-1L1,1M-1,1L1,-1", "filled": false, "color": "#4472C4", "strokeWidth": 1.3, "size": 100, "opacity": 1}, "encoding": {"y": {"field": "mean", "type": "quantitative"}}},
          {"data": {"values": [{"g": "bb", "out": 6.845}]}, "mark": {"type": "point", "shape": "circle", "filled": false, "color": "#4472C4", "strokeWidth": 1.3, "size": 25, "opacity": 1}, "encoding": {"y": {"field": "out", "type": "quantitative"}}}
        ]
      }
    ],
    "spacing": 0,
    "bounds": "flush"
  }
]
}
